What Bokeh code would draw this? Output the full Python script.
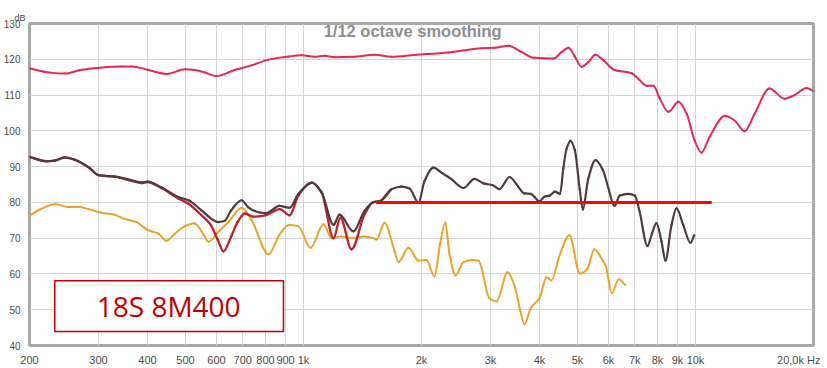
import math
from bokeh.plotting import figure
from bokeh.models import Range1d, FixedTicker, Label, BoxAnnotation
from bokeh.embed import file_html
from bokeh.resources import INLINE

# ---- data (frequency in Hz, level in dB) ----
top_freq = [200, 225, 246, 270, 300, 343, 364, 400, 447, 500, 527, 560, 600, 667, 737, 814,
            916, 988, 1067, 1131, 1200, 1349, 1517, 1677, 1919, 2344, 2845, 3072, 3334, 3600,
            3885, 4344, 4552, 4743, 4914, 5120, 5335, 5550, 5826, 6215, 6870, 7198, 7500, 7814,
            8094, 8534, 9050, 9500, 9942, 10360, 10858, 11900, 12577, 13340, 14144, 15440,
            16866, 17889, 19192, 20000]
top_db = [117.4, 116.3, 116.0, 117.0, 117.6, 118.0, 118.0, 117.1, 115.9, 117.2, 117.0, 116.3,
          115.3, 117.0, 118.3, 119.9, 120.8, 121.1, 120.7, 121.0, 120.6, 120.7, 121.3, 120.7,
          121.2, 121.9, 123.1, 123.2, 123.8, 122.0, 120.4, 120.2, 122.0, 123.2, 120.9, 117.9,
          119.3, 121.3, 119.7, 117.0, 116.1, 114.2, 112.6, 112.6, 109.2, 105.3, 108.1, 104.7,
          97.4, 93.9, 98.3, 104.2, 102.9, 99.9, 104.7, 111.8, 109.0, 110.0, 112.0, 111.1]

brown_freq = [200, 221, 232, 246, 261, 283, 300, 330, 364, 386, 400, 434, 480, 509, 549, 606,
              629, 654, 695, 722, 750, 800, 869, 921, 971, 1036, 1050, 1112, 1193, 1236, 1340,
              1431, 1509, 1563, 1677, 1778, 1864, 1965, 2036, 2146, 2249, 2385, 2560, 2730,
              2878, 3040, 3163, 3354, 3494, 3662, 3800, 4000, 4120, 4243, 4380, 4515, 4600,
              4690, 4800, 4920, 5066, 5160, 5324, 5560, 5800, 5988, 6210, 6412, 6730, 7000,
              7190, 7540, 7730, 7950, 8190, 8380, 8686, 8946, 9304, 9712, 9925]
brown_db = [92.7, 91.5, 91.7, 92.6, 91.9, 89.8, 87.6, 87.2, 86.2, 85.6, 85.8, 84.2, 81.5, 80.6,
            77.8, 74.5, 74.8, 77.8, 80.6, 78.7, 77.6, 77.0, 79.0, 78.5, 82.4, 85.3, 85.5, 82.8,
            73.7, 76.6, 71.9, 77.6, 80.1, 80.3, 83.7, 84.4, 83.9, 79.9, 86.0, 89.7, 88.3, 86.5,
            84.0, 86.6, 85.3, 84.8, 83.7, 87.1, 85.1, 82.5, 82.4, 80.3, 81.6, 81.9, 83.0, 82.4,
            89.5, 95.0, 97.2, 94.7, 83.7, 78.0, 86.5, 91.8, 89.1, 84.2, 79.0, 81.9, 82.4, 81.9,
            77.8, 67.8, 71.0, 74.2, 69.1, 63.7, 73.7, 78.3, 73.7, 68.7, 70.8]

red_freq = [200, 221, 232, 246, 261, 283, 300, 330, 364, 386, 400, 434, 480, 509, 549, 580,
            604, 625, 654, 680, 708, 744, 800, 870, 922, 970, 1036, 1050, 1112, 1193, 1242,
            1326, 1431, 1509, 1563, 1677]
red_db = [92.7, 91.5, 91.7, 92.6, 91.9, 89.8, 87.6, 87.2, 86.0, 85.4, 85.7, 84.0, 81.1, 79.6,
          76.4, 73.7, 69.6, 66.3, 70.5, 74.6, 76.9, 76.0, 76.4, 78.1, 76.4, 81.9, 85.3, 85.5,
          82.8, 70.0, 75.7, 66.9, 76.6, 80.1, 80.3, 83.7]

orange_freq = [200, 215, 232, 251, 267, 283, 305, 328, 349, 375, 400, 427, 447, 469, 497, 527,
               556, 572, 606, 647, 695, 737, 814, 869, 916, 971, 1042, 1125, 1179, 1250, 1326,
               1431, 1509, 1536, 1609, 1707, 1747, 1853, 1965, 2060, 2158, 2230, 2300, 2358,
               2443, 2560, 2684, 2796, 2982, 3108, 3316, 3460, 3570, 3662, 3800, 4000, 4168,
               4290, 4510, 4770, 5070, 5300, 5520, 5800, 5900, 6120, 6370, 6620]
orange_db = [76.3, 78.3, 79.5, 78.7, 78.7, 78.1, 77.1, 76.6, 75.4, 74.5, 72.3, 71.2, 69.3, 71.2,
             73.3, 74.2, 71.0, 69.0, 71.7, 74.8, 78.5, 75.1, 65.5, 71.0, 73.7, 73.3, 67.3, 73.9,
             70.0, 70.5, 70.0, 70.5, 70.0, 69.6, 74.3, 66.4, 63.3, 67.3, 63.7, 63.9, 59.3, 68.3,
             74.4, 65.5, 59.6, 63.3, 63.9, 63.7, 53.2, 52.3, 60.5, 56.4, 50.0, 45.9, 50.5, 53.2,
             59.1, 58.2, 65.5, 70.8, 60.1, 61.4, 66.9, 63.7, 62.3, 54.6, 58.5, 56.9]

target_freq = [1530, 11000]
target_db = [80, 80]

x_ticks = [200, 300, 400, 500, 600, 700, 800, 900, 1000, 2000, 3000, 4000, 5000, 6000,
           7000, 8000, 9000, 10000, 20000]
x_tick_labels = ["200", "300", "400", "500", "600", "700", "800", "900", "1k", "2k", "3k",
                 "4k", "5k", "6k", "7k", "8k", "9k", "10k", "20,0k Hz"]
y_ticks = [40, 50, 60, 70, 80, 90, 100, 110, 120, 130]

NARROW = "Liberation Sans Narrow, Liberation Sans"


def smooth(freq, db):
    """Monotone cubic (PCHIP) pieces in log-frequency space, returned as Bezier segments."""
    lx = [math.log10(f) for f in freq]
    n = len(lx)
    h = [lx[i + 1] - lx[i] for i in range(n - 1)]
    d = [(db[i + 1] - db[i]) / h[i] for i in range(n - 1)]
    m = [0.0] * n
    m[0], m[-1] = d[0], d[-1]
    for i in range(1, n - 1):
        if d[i - 1] * d[i] <= 0:
            m[i] = 0.0
        else:
            w1 = 2 * h[i] + h[i - 1]
            w2 = h[i] + 2 * h[i - 1]
            m[i] = (w1 + w2) / (w1 / d[i - 1] + w2 / d[i])
    seg = dict(x0=[], y0=[], x1=[], y1=[], cx0=[], cy0=[], cx1=[], cy1=[])
    for i in range(n - 1):
        seg["x0"].append(freq[i]); seg["y0"].append(db[i])
        seg["x1"].append(freq[i + 1]); seg["y1"].append(db[i + 1])
        seg["cx0"].append(10 ** (lx[i] + h[i] / 3)); seg["cy0"].append(db[i] + m[i] * h[i] / 3)
        seg["cx1"].append(10 ** (lx[i + 1] - h[i] / 3)); seg["cy1"].append(db[i + 1] - m[i + 1] * h[i] / 3)
    return seg


p = figure(frame_width=784, frame_height=322, x_axis_type="log",
           x_range=Range1d(200, 20000), y_range=Range1d(40, 130),
           output_backend="svg", toolbar_location=None, title="\ndB",
           min_border_left=20, min_border_right=7, min_border_top=16, min_border_bottom=0)

# unit label "dB" above the y tick labels
p.title.align = "left"
p.title.offset = -15
p.title.standoff = 1
p.title.text_font = NARROW
p.title.text_font_size = "9px"
p.title.text_font_style = "normal"
p.title.text_color = "#4A4A4A"

p.background_fill_color = "white"
p.border_fill_color = "white"
p.outline_line_color = "#A8A8A8"
p.outline_line_width = 3

p.xaxis.axis_label = None
p.yaxis.axis_label = None
p.xaxis.ticker = FixedTicker(ticks=x_ticks)
p.xaxis.major_label_overrides = {t: l for t, l in zip(x_ticks, x_tick_labels)}
p.yaxis.ticker = FixedTicker(ticks=y_ticks)
p.xgrid.ticker = FixedTicker(ticks=x_ticks)
p.ygrid.ticker = FixedTicker(ticks=y_ticks)
p.grid.grid_line_color = "#D4D4D4"
p.grid.grid_line_width = 1

p.axis.axis_line_color = None
p.axis.major_tick_line_color = None
p.axis.minor_tick_line_color = None
p.axis.major_label_text_color = "#4A4A4A"
p.axis.major_label_text_font = NARROW
p.xaxis.major_label_text_font_size = "11px"
p.yaxis.major_label_text_font_size = "10px"
p.xaxis.major_label_standoff = 2
p.yaxis.major_label_standoff = 3

# legend-like box (drawn under the curves, above the grid)
p.add_layout(BoxAnnotation(left=232, right=889, bottom=43.9, top=58.1, fill_color="white",
                           fill_alpha=1.0, line_color="#C00000", line_alpha=1.0,
                           line_width=1.5, level="underlay"))

for fr, lv, col, w in [(orange_freq, orange_db, "#E9A42C", 2.0),
                       (top_freq, top_db, "#E5294F", 2.0),
                       (red_freq, red_db, "#C41F2A", 2.3),
                       (brown_freq, brown_db, "#4E3C3C", 2.2)]:
    p.bezier(line_color=col, line_width=w, line_cap="round", **smooth(fr, lv))

p.line(target_freq, target_db, color="#FF0000", line_width=3)

p.add_layout(Label(x=1898, y=127.8, text="1/12 octave smoothing", text_align="center",
                   text_baseline="middle", text_font="Liberation Sans", text_font_style="bold",
                   text_font_size="16.5px", text_color="#8E8E8E"))
p.add_layout(Label(x=453, y=51.0, text="18S 8M400", text_align="center", text_baseline="middle",
                   text_font="Open Sans", text_font_size="28px", text_color="#C00000"))

open("out.html", "w").write(file_html(p, INLINE))
